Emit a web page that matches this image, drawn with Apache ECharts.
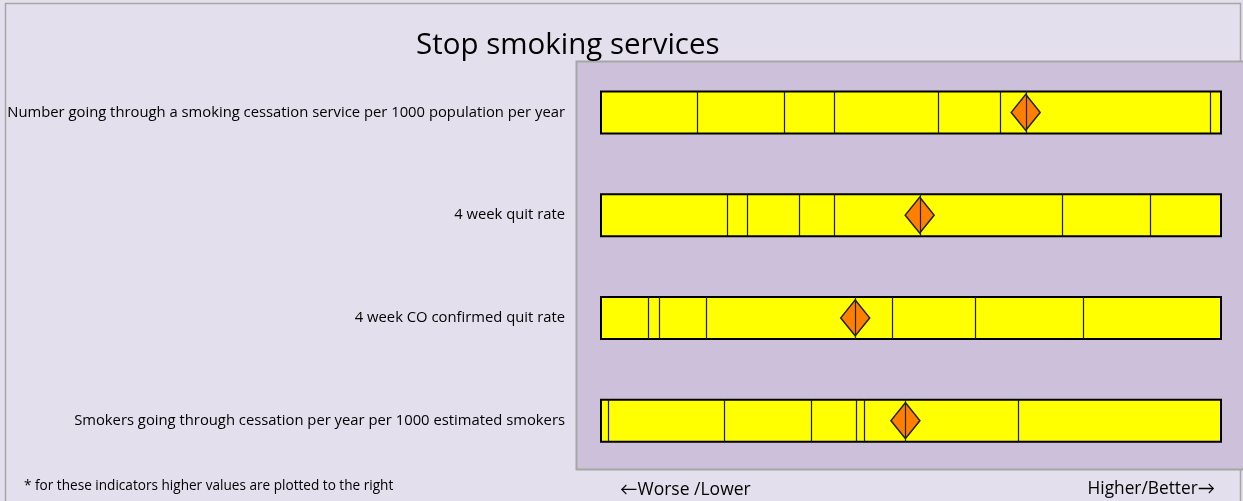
<!DOCTYPE html>
<html>
<head>
<meta charset="utf-8">
<title>Stop smoking services</title>
<script src="https://cdn.jsdelivr.net/npm/echarts@6/dist/echarts.min.js"></script>
<style>
  html, body { margin: 0; padding: 0; background: #E4DFEC; }
  #chart { width: 1243px; height: 501px; }
</style>
</head>
<body>
<div id="chart"></div>
<script>
// Indicator names, top to bottom
const indicators = [
  'Number going through a smoking cessation service per 1000 population per year',
  '4 week quit rate',
  '4 week CO confirmed quit rate',
  'Smokers going through cessation per year per 1000 estimated smokers'
];

// Band boundaries on a 0–100 scale (worse on the left, better on the right)
const bands1 = [15.5, 29.5, 37.6, 54.3, 64.3, 98.3];
const bands2 = [20.4, 23.6, 32.0, 37.5, 74.4, 88.6];
const bands3 = [7.5, 9.4, 16.9, 46.9, 60.4, 77.7];
const bands4 = [1.2, 19.8, 33.8, 41.2, 42.4, 67.2];
const bandEdges = [bands1, bands2, bands3, bands4];

// Local value per indicator, same scale
const localValues = [68.5, 51.4, 41.0, 49.1];

const scaleMin = 0;
const scaleMax = 100;

const FONT = '"Open Sans", Lato, sans-serif';
const BAR_H = 42;

const chart = echarts.init(document.getElementById('chart'), null, { renderer: 'canvas' });

function renderBand(params, api) {
  const row = api.value(0);
  const left = api.coord([scaleMin, row]);
  const right = api.coord([scaleMax, row]);
  const y0 = left[1] - BAR_H / 2;
  const children = [{
    type: 'rect',
    shape: { x: left[0], y: y0, width: right[0] - left[0], height: BAR_H },
    style: { fill: '#FFFF00', stroke: '#000', lineWidth: 2 }
  }];
  bandEdges[row].forEach(function (v) {
    const x = Math.round(api.coord([v, row])[0]) + 0.5;
    children.push({
      type: 'line',
      shape: { x1: x, y1: y0, x2: x, y2: y0 + BAR_H },
      style: { stroke: '#1a1a1a', lineWidth: 1.2 }
    });
  });
  return { type: 'group', children: children };
}

function renderValueLine(params, api) {
  const pt = api.coord([api.value(0), api.value(1)]);
  const x = Math.round(pt[0]) + 0.5;
  return {
    type: 'line',
    shape: { x1: x, y1: pt[1] - BAR_H / 2, x2: x, y2: pt[1] + BAR_H / 2 },
    style: { stroke: '#222', lineWidth: 1.2 }
  };
}

chart.setOption({
  animation: false,
  backgroundColor: '#E4DFEC',
  textStyle: { fontFamily: FONT },
  title: {
    text: 'Stop smoking services',
    left: 411,
    top: 26,
    textStyle: { fontFamily: FONT, fontSize: 29.5, fontWeight: 'normal', color: '#000' }
  },
  graphic: [
    {
      type: 'rect', z: -10, silent: true,
      shape: { x: 5.5, y: 3.5, width: 1235, height: 520 },
      style: { fill: '#E4DFEC', stroke: '#A6A6A6', lineWidth: 1.5 }
    },
    {
      type: 'rect', z: -9, silent: true,
      shape: { x: 576.5, y: 61.5, width: 700, height: 408 },
      style: { fill: '#CCC0DA', stroke: '#A6A6A6', lineWidth: 2 }
    },
    {
      type: 'text', left: 24, top: 479,
      style: { text: '* for these indicators higher values are plotted to the right',
               font: '13.6px ' + FONT, fill: '#000' }
    },
    {
      type: 'text', left: 620, top: 481,
      style: { text: '\u2190Worse /Lower', font: '17.5px ' + FONT, fill: '#000' }
    },
    {
      type: 'text', right: 1243 - 1215, top: 481,
      style: { text: 'Higher/Better\u2192', font: '17.3px ' + FONT, fill: '#000', align: 'right' }
    }
  ],
  grid: { left: 601, width: 620, top: 61, height: 411 },
  xAxis: {
    type: 'value', min: scaleMin, max: scaleMax, show: false
  },
  yAxis: {
    type: 'category',
    inverse: true,
    data: indicators,
    axisLine: { show: false },
    axisTick: { show: false },
    splitLine: { show: false },
    axisLabel: { color: '#000', fontSize: 14.8, fontFamily: FONT, margin: 36 }
  },
  series: [
    {
      type: 'custom',
      renderItem: renderBand,
      data: indicators.map(function (_, i) { return [i]; }),
      encode: { y: 0 },
      z: 2
    },
    {
      type: 'scatter',
      symbol: 'diamond',
      symbolSize: [29, 36],
      data: localValues.map(function (v, i) { return [v, i]; }),
      itemStyle: { color: '#FF7F00', borderColor: '#222', borderWidth: 1.5, opacity: 1 },
      z: 3
    },
    {
      type: 'custom',
      renderItem: renderValueLine,
      data: localValues.map(function (v, i) { return [v, i]; }),
      encode: { x: 0, y: 1 },
      z: 4
    }
  ]
});
</script>
</body>
</html>
